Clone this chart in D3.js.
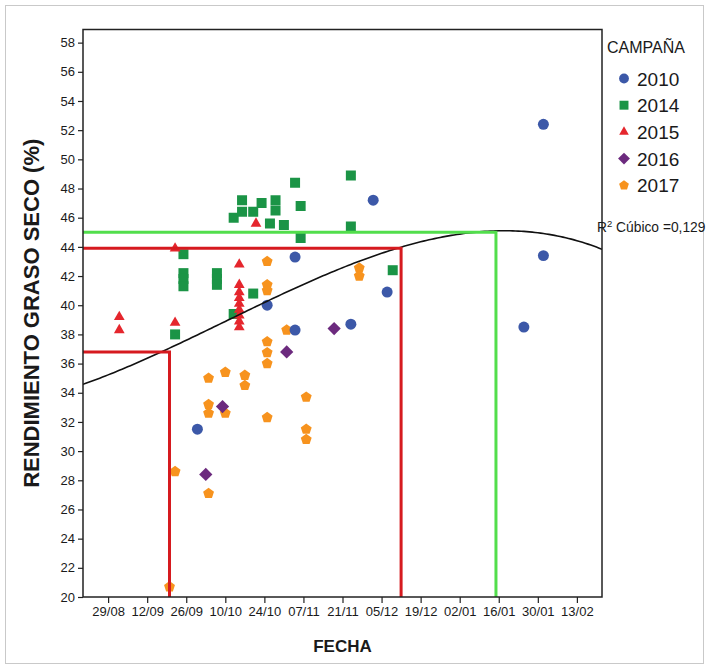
<!DOCTYPE html>
<html>
<head>
<meta charset="utf-8">
<script src="https://cdnjs.cloudflare.com/ajax/libs/d3/7.8.5/d3.min.js"></script>
<style>
  body { margin: 0; background: #fff; }
</style>
</head>
<body>
<div id="chart"></div>
<script>

// Datos (fecha dd/mm, rendimiento graso seco %)
var campanas = ["2010", "2014", "2015", "2016", "2017"];

var serie2010 = [["30/09", 31.5], ["25/10", 40.0], ["04/11", 43.3], ["04/11", 38.3], ["24/11", 38.7],
  ["02/12", 47.2], ["07/12", 40.9], ["25/01", 38.5], ["01/02", 52.4], ["01/02", 43.4]];

var serie2014 = [["22/09", 38.0], ["25/09", 43.5], ["25/09", 42.2], ["25/09", 41.8], ["25/09", 41.3],
  ["07/10", 42.2], ["07/10", 41.8], ["07/10", 41.4], ["13/10", 39.4], ["13/10", 46.0], ["16/10", 46.4],
  ["16/10", 47.2], ["20/10", 46.4], ["20/10", 40.8], ["23/10", 47.0], ["26/10", 45.6], ["28/10", 47.2],
  ["28/10", 46.5], ["31/10", 45.5], ["04/11", 48.4], ["06/11", 46.8], ["06/11", 44.6], ["24/11", 48.9],
  ["24/11", 45.4], ["09/12", 42.4]];

var serie2015 = [["02/09", 39.2], ["02/09", 38.3], ["22/09", 38.8], ["22/09", 43.9], ["15/10", 42.8],
  ["15/10", 41.4], ["15/10", 40.9], ["15/10", 40.5], ["15/10", 40.1], ["15/10", 39.7], ["15/10", 39.3],
  ["15/10", 38.9], ["15/10", 38.5], ["21/10", 45.6]];

var serie2016 = [["03/10", 28.4], ["09/10", 33.05], ["01/11", 36.8], ["18/11", 38.4]];

var serie2017 = [["20/09", 20.7], ["22/09", 28.6], ["04/10", 35.0], ["04/10", 33.2], ["04/10", 32.6],
  ["04/10", 27.1], ["10/10", 35.4], ["10/10", 32.6], ["17/10", 35.2], ["17/10", 34.5], ["25/10", 43.0],
  ["25/10", 41.4], ["25/10", 41.0], ["25/10", 37.5], ["25/10", 36.75], ["25/10", 36.0], ["25/10", 32.3],
  ["01/11", 38.3], ["08/11", 33.7], ["08/11", 31.5], ["08/11", 30.8], ["27/11", 42.55], ["27/11", 42.0]];

var fechaTicks = ["29/08", "12/09", "26/09", "10/10", "24/10", "07/11", "21/11", "05/12",
  "19/12", "02/01", "16/01", "30/01", "13/02"];
var rendimientoTicks = [20, 22, 24, 26, 28, 30, 32, 34, 36, 38, 40, 42, 44, 46, 48, 50, 52, 54, 56, 58];

// ajuste cubico: a + b*w + c*w^2 + d*w^3, w = semanas desde 29/08
var ajusteCubico = [35.2257, 0.53261, 0.019448, -0.0010695];
var r2Cubico = "0,129";

// lineas de referencia [fecha, rendimiento]
var refRojas = [["20/09", 36.8], ["12/12", 43.9]];
var refVerdes = [["15/01", 45.0]];


function renderChart() {

  var attrs = {
    svgWidth: 709,
    svgHeight: 669,
    marginTop: 29.5,
    marginLeft: 83,
    marginRight: 107,
    marginBottom: 72,
    container: '#chart',
    defaultFont: '"Liberation Sans", Arial, Helvetica, sans-serif',
    textFill: '#1a1a1a',
    xStart: "20/08",
    xEnd: "22/02",
    yMin: 20,
    yMax: 58.9,
    colors: { "2010": "#3c58a8", "2014": "#1b9446", "2015": "#e5262d", "2016": "#6c2a7e", "2017": "#f7931e" },
    redLine: '#d61a1f',
    greenLine: '#52de4c'
  };

  // dd/mm -> fecha de la campaña (ago-dic 2016, ene-feb 2017)
  function parseFecha(s) {
    var p = s.split('/').map(Number);
    return new Date(p[1] >= 7 ? 2016 : 2017, p[1] - 1, p[0]);
  }

  // pentagono y rombo al estilo SPSS
  var symbolPentagon = {
    draw: function (ctx, size) {
      var r = Math.sqrt(size / 2.378);
      for (var k = 0; k < 5; k++) {
        var a = -Math.PI / 2 + k * 2 * Math.PI / 5;
        if (k === 0) ctx.moveTo(r * Math.cos(a), r * Math.sin(a));
        else ctx.lineTo(r * Math.cos(a), r * Math.sin(a));
      }
      ctx.closePath();
    }
  };
  var symbolRombo = {
    draw: function (ctx, size) {
      var h = Math.sqrt(size / 2);
      ctx.moveTo(0, -h); ctx.lineTo(h, 0); ctx.lineTo(0, h); ctx.lineTo(-h, 0); ctx.closePath();
    }
  };

  var symbols = {
    "2010": { type: d3.symbolCircle, size: 95 },
    "2014": { type: d3.symbolSquare, size: 100 },
    "2015": { type: d3.symbolTriangle, size: 50 },
    "2016": { type: symbolRombo, size: 88 },
    "2017": { type: symbolPentagon, size: 78 }
  };

  var series = { "2010": serie2010, "2014": serie2014, "2015": serie2015, "2016": serie2016, "2017": serie2017 };

  var calc = {};
  calc.chartWidth = attrs.svgWidth - attrs.marginLeft - attrs.marginRight;
  calc.chartHeight = attrs.svgHeight - attrs.marginTop - attrs.marginBottom;

  var x = d3.scaleTime()
    .domain([parseFecha(attrs.xStart), parseFecha(attrs.xEnd)])
    .range([0, calc.chartWidth]);

  var y = d3.scaleLinear()
    .domain([attrs.yMin, attrs.yMax])
    .range([calc.chartHeight, 0]);

  var svg = d3.select(attrs.container).append('svg')
    .attr('width', attrs.svgWidth)
    .attr('height', attrs.svgHeight)
    .attr('font-family', attrs.defaultFont);

  // marco exterior gris
  svg.append('rect')
    .attr('x', 5.5).attr('y', 5.5)
    .attr('width', attrs.svgWidth - 11).attr('height', attrs.svgHeight - 11)
    .attr('fill', '#fff').attr('stroke', '#c9c9c9').attr('stroke-width', 1);

  var chart = svg.append('g')
    .attr('transform', 'translate(' + attrs.marginLeft + ',' + attrs.marginTop + ')');

  svg.append('defs').append('clipPath').attr('id', 'plot-clip')
    .append('rect').attr('width', calc.chartWidth).attr('height', calc.chartHeight);

  // Ejes
  var tickDates = fechaTicks.map(parseFecha);
  var xAxis = chart.append('g')
    .attr('transform', 'translate(0,' + calc.chartHeight + ')')
    .call(d3.axisBottom(x).tickValues(tickDates).tickSize(6).tickPadding(4)
      .tickFormat(function (d, i) { return fechaTicks[i]; }));

  var yAxis = chart.append('g')
    .call(d3.axisLeft(y).tickValues(rendimientoTicks).tickSize(5).tickPadding(3));

  [xAxis, yAxis].forEach(function (ax) {
    ax.select('.domain').remove();
    ax.selectAll('.tick line').attr('stroke', '#222').attr('stroke-width', 1.2);
    ax.selectAll('.tick text').attr('fill', attrs.textFill).attr('font-size', 13);
  });

  // puntos
  var pointsGroup = chart.append('g').attr('clip-path', 'url(#plot-clip)');
  var drawOrder = ["2017", "2014", "2015", "2016", "2010"];
  drawOrder.forEach(function (c) {
    var sym = d3.symbol().type(symbols[c].type).size(symbols[c].size);
    pointsGroup.selectAll('.p' + c)
      .data(series[c])
      .enter().append('path')
      .attr('class', 'p' + c)
      .attr('d', sym)
      .attr('fill', attrs.colors[c])
      .attr('transform', function (d) {
        return 'translate(' + x(parseFecha(d[0])) + ',' + y(d[1]) + ')';
      });
  });

  // curva del ajuste cubico
  var origen = parseFecha(fechaTicks[0]);
  var dias = d3.range(-12, 182);
  var curva = dias.map(function (k) {
    var w = k / 7;
    return [d3.timeDay.offset(origen, k),
      ajusteCubico[0] + ajusteCubico[1] * w + ajusteCubico[2] * w * w + ajusteCubico[3] * w * w * w];
  });

  var linesGroup = chart.append('g').attr('clip-path', 'url(#plot-clip)');

  linesGroup.append('path')
    .datum(curva)
    .attr('fill', 'none')
    .attr('stroke', '#111')
    .attr('stroke-width', 1.6)
    .attr('d', d3.line().x(function (d) { return x(d[0]); }).y(function (d) { return y(d[1]); }));

  // lineas de referencia (L invertida desde el eje Y y hasta el eje X)
  function refPath(d) {
    var px = x(parseFecha(d[0])), py = y(d[1]);
    return 'M0,' + py + 'H' + px + 'V' + calc.chartHeight;
  }
  linesGroup.selectAll('.ref-red').data(refRojas).enter().append('path')
    .attr('class', 'ref-red')
    .attr('fill', 'none').attr('stroke', attrs.redLine).attr('stroke-width', 3)
    .attr('d', refPath);
  linesGroup.selectAll('.ref-green').data(refVerdes).enter().append('path')
    .attr('class', 'ref-green')
    .attr('fill', 'none').attr('stroke', attrs.greenLine).attr('stroke-width', 3)
    .attr('d', refPath);

  // marco del area de trazado
  chart.append('rect')
    .attr('width', calc.chartWidth).attr('height', calc.chartHeight)
    .attr('fill', 'none').attr('stroke', '#222').attr('stroke-width', 1.5);

  // titulos de ejes
  chart.append('text')
    .attr('x', calc.chartWidth / 2).attr('y', calc.chartHeight + 55)
    .attr('text-anchor', 'middle').attr('font-weight', 'bold').attr('font-size', 17)
    .attr('fill', attrs.textFill)
    .text('FECHA');

  chart.append('text')
    .attr('transform', 'translate(' + (-44) + ',' + (calc.chartHeight / 2) + ') rotate(-90)')
    .attr('text-anchor', 'middle').attr('font-weight', 'bold').attr('font-size', 22)
    .attr('fill', attrs.textFill)
    .text('RENDIMIENTO GRASO SECO (%)');

  // leyenda
  var legend = svg.append('g')
    .attr('transform', 'translate(' + (attrs.marginLeft + calc.chartWidth + 5) + ',' + attrs.marginTop + ')');

  legend.append('text')
    .attr('x', 0).attr('y', 23)
    .attr('font-size', 16).attr('fill', attrs.textFill)
    .text('CAMPAÑA');

  var items = legend.selectAll('.legend-item').data(campanas).enter().append('g')
    .attr('class', 'legend-item')
    .attr('transform', function (d, i) { return 'translate(17,' + (49 + i * 26.7) + ')'; });

  items.append('path')
    .attr('d', function (c) { return d3.symbol().type(symbols[c].type).size(symbols[c].size * 0.8)(); })
    .attr('fill', function (c) { return attrs.colors[c]; });

  items.append('text')
    .attr('x', 13).attr('y', 7)
    .attr('font-size', 19).attr('fill', attrs.textFill)
    .text(function (c) { return c; });

  // etiqueta del ajuste
  var r2 = svg.append('text')
    .attr('x', attrs.marginLeft + calc.chartWidth - 5).attr('y', 232)
    .attr('font-size', 13.8).attr('fill', attrs.textFill);
  r2.append('tspan').text('R');
  r2.append('tspan').attr('font-size', 9.5).attr('dy', -5).text('2');
  r2.append('tspan').attr('dy', 5).text(' Cúbico =' + r2Cubico);
}

renderChart();
</script>
</body>
</html>
